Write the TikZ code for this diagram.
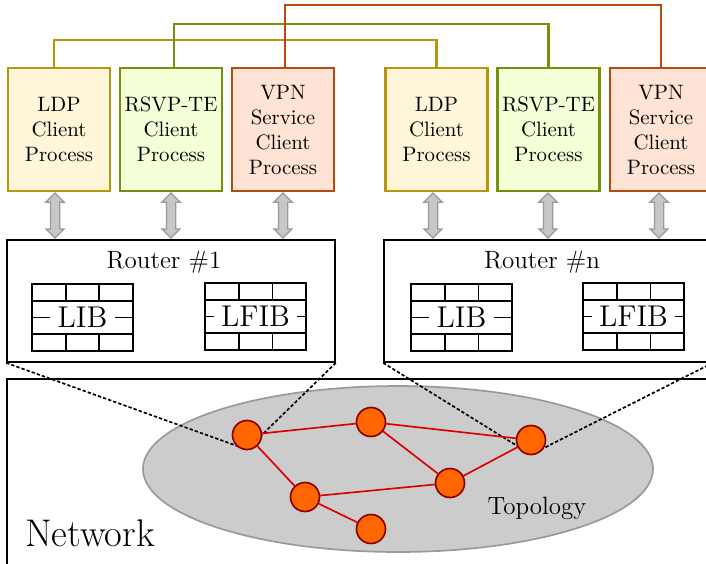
\documentclass[tikz,border=0pt]{standalone}
\usetikzlibrary{shapes.geometric,shapes.arrows,calc}

\definecolor{ldpfill}{HTML}{FFF5D9}
\definecolor{ldpdraw}{HTML}{B8960B}
\definecolor{rsvpfill}{HTML}{F4FFD8}
\definecolor{rsvpdraw}{HTML}{76900E}
\definecolor{vpnfill}{HTML}{FFE4D5}
\definecolor{vpndraw}{HTML}{B84A10}
\definecolor{topofill}{HTML}{CCCCCC}
\definecolor{topodraw}{HTML}{999999}
\definecolor{hostfill}{HTML}{FF6600}
\definecolor{hostdraw}{HTML}{8B0000}
\definecolor{linkred}{HTML}{DD0000}

\def\u{0.48pt}

\tikzset{
  proc/.style={rectangle, line width=1pt, minimum width=102*\u, minimum height=123*\u,
    align=center, inner sep=1pt, font=\normalsize},
  ldpbox/.style={proc, draw=ldpdraw, fill=ldpfill},
  rsvpbox/.style={proc, draw=rsvpdraw, fill=rsvpfill},
  vpnbox/.style={proc, draw=vpndraw, fill=vpnfill},
  ipc/.style={double arrow, draw=black!40, fill=black!22, line width=0.6pt,
    rotate=90, minimum height=45*\u, inner xsep=0pt, inner ysep=4*\u,
    double arrow head extend=4.5*\u, double arrow head indent=0pt},
  router/.style={rectangle, draw, line width=0.8pt, minimum width=328*\u, minimum height=122*\u},
  host/.style={circle, draw=hostdraw, fill=hostfill, line width=0.8pt, minimum size=29*\u, inner sep=0pt},
  link/.style={draw=linkred, line width=0.8pt},
  zoomline/.style={draw=black, line width=0.8pt, dash pattern=on 1.6pt off 1pt},
  pics/lbltable/.style={code={
    \draw[line width=0.8pt] (0,0) rectangle (101,67)
      (0,16.75) -- (101,16.75) (0,33.5) -- (101,33.5) (0,50.25) -- (101,50.25)
      (33.67,0) -- (33.67,67) (67.33,0) -- (67.33,67);
    \node[fill=white, inner xsep=3.5pt, inner ysep=0pt, minimum height=31*\u, font=\Large]
      (-label) at (50.5,33.5) {#1};
  }}
}

\begin{document}
\begin{tikzpicture}[x=\u, y=-\u]
\clip (0,0) rectangle (706,563);
\fill[white] (0,0) rectangle (706,563);

% client processes of the first router
\node[ldpbox]  (ldpA)  at (59,129.5)    {LDP\\Client\\Process};
\node[rsvpbox] (rsvpA) at (171,129.5)   {RSVP-TE\\Client\\Process};
\node[vpnbox]  (vpnA)  at (283,129.5)   {VPN\\Service\\Client\\Process};
% client processes of the last router
\node[ldpbox]  (ldpB)  at (436.5,129.5) {LDP\\Client\\Process};
\node[rsvpbox] (rsvpB) at (548.5,129.5) {RSVP-TE\\Client\\Process};
\node[vpnbox]  (vpnB)  at (661,129.5)   {VPN\\Service\\Client\\Process};

% peer sessions between matching processes
\draw[ldpdraw, line width=1pt] ([xshift=-5*\u]ldpA.north) |- ([yshift=27*\u]ldpB.north) -- (ldpB.north);
\draw[rsvpdraw, line width=1pt] ([xshift=3*\u]rsvpA.north) |- ([yshift=43*\u]rsvpB.north) -- (rsvpB.north);
\draw[vpndraw, line width=1pt] ([xshift=2*\u]vpnA.north) |- ([yshift=62*\u]vpnB.north) -- (vpnB.north);

% routers
\node[router] (r1) at (171,301) {};
\node[router] (rn) at (548,301) {};
\node[font=\large] (r1title) at (164,262) {Router \#1};
\node[font=\large] (rntitle) at (542,262) {Router \#n};

\pic (lib1)  at (32,284)  {lbltable=LIB};
\pic (lfib1) at (205,283) {lbltable=LFIB};
\pic (libn)  at (411,284) {lbltable=LIB};
\pic (lfibn) at (583,283) {lbltable=LFIB};

% process <-> router interfaces
\node[ipc] (a1) at (55,215.5)  {};
\node[ipc] (a2) at (171,215.5) {};
\node[ipc] (a3) at (283,215.5) {};
\node[ipc] (a4) at (433,215.5) {};
\node[ipc] (a5) at (548,215.5) {};
\node[ipc] (a6) at (659,215.5) {};

% network
\draw[line width=0.8pt] (7,600) -- (7,379) -- (720,379);
\node[font=\fontsize{18.5pt}{22pt}\selectfont] (netlabel) at (90,533) {Network};

\node[ellipse, draw=topodraw, fill=topofill, line width=0.8pt,
  minimum width=510*\u, minimum height=166*\u] (topo) at (398,469) {};
\node[font=\large] (topolabel) at (537,508) {Topology};

\coordinate (h1s) at (247,449.5);
\coordinate (h3s) at (531,454.5);
\draw[zoomline] (r1.south west) -- (h1s);
\draw[zoomline] (r1.south east) -- (h1s);
\draw[zoomline] (rn.south west) -- (h3s);
\draw[zoomline] (rn.south east) -- (h3s);

\node[host] (h1) at (247,435) {};
\node[host] (h2) at (371,422) {};
\node[host] (h3) at (531,440) {};
\node[host] (h4) at (450,483) {};
\node[host] (h5) at (305,497) {};
\node[host] (h6) at (371,529) {};

\path[link] (h1) -- (h2);
\path[link] (h1) -- (h5);
\path[link] (h2) -- (h3);
\path[link] (h2) -- (h4);
\path[link] (h4) -- (h3);
\path[link] (h5) -- (h4);
\path[link] (h5) -- (h6);
\end{tikzpicture}
\end{document}
